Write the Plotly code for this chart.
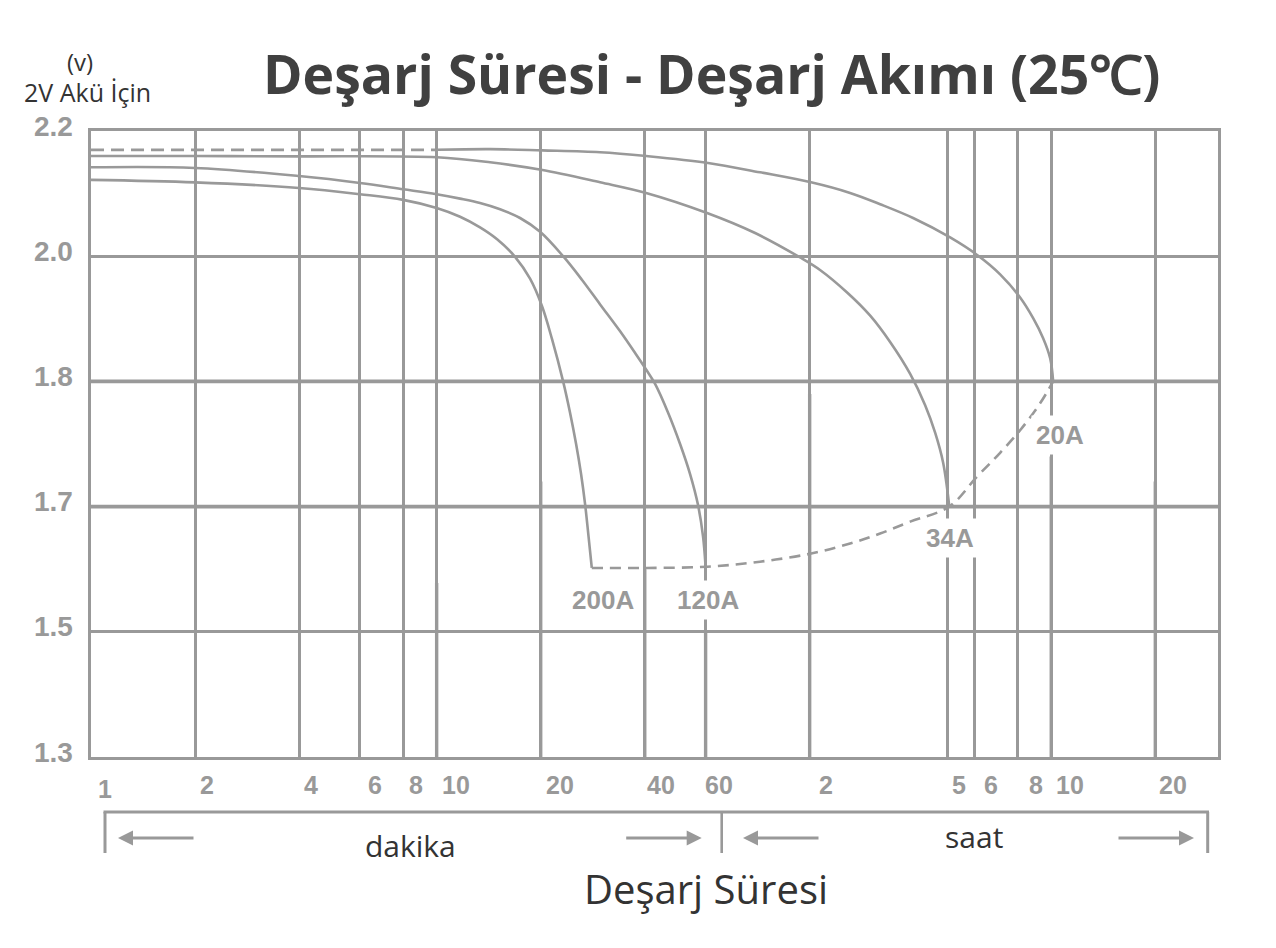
import numpy as np
import plotly.graph_objects as go

# ---------------- data ----------------
volt_ticks = [1.3, 1.5, 1.7, 1.8, 2.0, 2.2]
volt_tick_labels = ["1.3", "1.5", "1.7", "1.8", "2.0", "2.2"]

# discharge time in minutes
time_ticks = [1, 2, 4, 6, 8, 10, 20, 40, 60, 120, 300, 360, 480, 600, 1200]
time_tick_labels = ["1", "2", "4", "6", "8", "10", "20", "40", "60",
                    "2", "5", "6", "8", "10", "20"]

# 20A (dashed float part + solid discharge part)
t_20A_float = [1, 10]
v_20A_float = [2.170, 2.170]
t_20A = [10.0, 14.3, 20.2, 29.7, 40.4, 61.0, 86.2, 121.1, 157.1, 191.9, 239,
         305.9, 366.2, 426.8, 487.6, 531.8, 568.4, 595.6, 607.6]
v_20A = [2.170, 2.171, 2.169, 2.166, 2.160, 2.149, 2.134, 2.118, 2.101, 2.083,
         2.061, 2.030, 2.002, 1.971, 1.934, 1.901, 1.869, 1.837, 1.800]

# 34A
t_34A = [1, 2, 4, 10.03, 14.27, 20.05, 29.71, 40.36, 60.58, 83.44, 112.6, 128.6,
         154.0, 179.6, 205.1, 234.4, 259.0, 276.8, 292.0, 303.9]
v_34A = [2.160, 2.160, 2.1595, 2.158, 2.150, 2.138, 2.118, 2.101, 2.069, 2.037,
         1.998, 1.978, 1.942, 1.905, 1.863, 1.812, 1.781, 1.759, 1.735, 1.701]

# 120A
t_120A = [1, 2, 4, 6, 8, 10, 11.69, 13.35, 15.26, 17.43, 19.92, 23.22, 26.35,
          29.71, 33.95, 37.76, 40.36, 42.85, 46.73, 50.62, 54.10, 57.07, 58.99,
          59.99]
v_120A = [2.142, 2.141, 2.128, 2.117, 2.107, 2.099, 2.092, 2.085, 2.075, 2.061,
          2.039, 2.000, 1.962, 1.923, 1.880, 1.843, 1.819, 1.798, 1.775, 1.750,
          1.726, 1.701, 1.652, 1.604]

# 200A
t_200A = [1, 2, 4, 6, 8, 10, 11.69, 13.35, 14.96, 16.86, 18.63, 20.18, 21.58,
          23.22, 24.32, 25.32, 26.17, 26.88, 27.51, 28.11]
v_200A = [2.122, 2.118, 2.109, 2.099, 2.090, 2.077, 2.063, 2.046, 2.027, 1.999,
          1.964, 1.920, 1.867, 1.800, 1.775, 1.750, 1.726, 1.702, 1.652, 1.602]

# final (cut-off) voltage line, dashed
t_cut = [28.11, 40.36, 60.58, 86.2, 121.2, 157.1, 191.9, 234.4, 303.9, 366.2,
         426.8, 487.6, 557, 607.6]
v_cut = [1.602, 1.602, 1.604, 1.612, 1.625, 1.641, 1.657, 1.676, 1.700, 1.724,
         1.743, 1.761, 1.7825, 1.800]

curve_labels = ["200A", "120A", "34A", "20A"]

# ---------------- styling ----------------
GRID = "#999999"
DARK = "#404040"
TXT = "#333333"

W, H = 1276, 948
L, R, T, B = 91, 1218, 131, 757


def px(xp):
    return (xp - L) / (R - L)


def py(yp):
    return (B - yp) / (B - T)


def vpos(v):
    # voltage -> evenly spaced grid position (the chart uses uneven voltage ticks)
    return np.interp(v, volt_ticks, list(range(len(volt_ticks))))


fig = go.Figure()

# slightly heavier grid segments seen in the original
heavy_h = [1.8, 1.7]
for hv in heavy_h:
    fig.add_trace(go.Scatter(x=[1, 1822], y=[vpos(hv)] * 2, mode="lines",
                             line=dict(color=GRID, width=3.6), hoverinfo="skip"))
heavy_v = [(10, 1.578), (20, 1.72), (40, 1.60), (120, 1.79), (600, 1.74), (1200, 1.72), (60, 1.5)]
for tv, vtop in heavy_v:
    fig.add_trace(go.Scatter(x=[tv, tv], y=[0, vpos(vtop)], mode="lines",
                             line=dict(color=GRID, width=3.4), hoverinfo="skip"))

line_style = dict(color=GRID, width=2.6, shape="spline", smoothing=1.0)

fig.add_trace(go.Scatter(x=t_20A_float, y=vpos(v_20A_float), mode="lines",
                         line=dict(color=GRID, width=2.8, dash="13px,7px")))
fig.add_trace(go.Scatter(x=t_20A, y=vpos(v_20A), mode="lines", line=line_style))
fig.add_trace(go.Scatter(x=t_34A, y=vpos(v_34A), mode="lines", line=line_style))
fig.add_trace(go.Scatter(x=t_120A, y=vpos(v_120A), mode="lines", line=line_style))
fig.add_trace(go.Scatter(x=t_200A, y=vpos(v_200A), mode="lines", line=line_style))
fig.add_trace(go.Scatter(x=t_cut, y=vpos(v_cut), mode="lines",
                         line=dict(color=GRID, width=2.6, dash="11px,7px",
                                   shape="spline", smoothing=1.0)))

annotations = []

# x tick labels (left-aligned just right of each grid line)
x_label_shift = [5, 3, 3, 6, 4, 3, 3, 0, -3, 7, 3, 7, 9, 3, 2]
for val, lab, sh in zip(time_ticks, time_tick_labels, x_label_shift):
    annotations.append(dict(
        x=np.log10(val), xref="x", y=py(785 + (4 if val == 1 else 0)),
        yref="paper", text=lab, showarrow=False, xanchor="left", yanchor="middle",
        xshift=sh,
        font=dict(family="Liberation Sans, Arial", size=25, color=GRID, weight="bold")))

# y tick labels
for i, lab in enumerate(volt_tick_labels):
    annotations.append(dict(
        x=px(75), xref="paper", y=i, yref="y", yshift=5, text=lab, showarrow=False,
        xanchor="right", yanchor="middle",
        font=dict(family="Liberation Sans, Arial", size=28, color=GRID, weight="bold")))

# curve labels
label_pos = [(602.5, 600), (708, 600), (950, 538), (1059.5, 435)]
for lab, (lx, ly) in zip(curve_labels, label_pos):
    annotations.append(dict(
        x=px(lx), y=py(ly), xref="paper", yref="paper", text=lab, showarrow=False,
        xanchor="center", yanchor="middle", bgcolor="white", borderpad=4,
        font=dict(family="Liberation Sans, Arial", size=26, color=GRID, weight="bold")))

# title and side texts
annotations += [
    dict(x=px(711), y=py(74), xref="paper", yref="paper",
         text="Deşarj Süresi - Deşarj Akımı (25℃)", showarrow=False,
         xanchor="center", yanchor="middle",
         font=dict(family="Open Sans", size=53.5, color=DARK, weight="bold")),
    dict(x=px(80), y=py(62), xref="paper", yref="paper", text="(v)", showarrow=False,
         xanchor="center", yanchor="middle",
         font=dict(family="Open Sans", size=24, color=TXT)),
    dict(x=px(87.5), y=py(92), xref="paper", yref="paper", text="2V Akü İçin",
         showarrow=False, xanchor="center", yanchor="middle",
         font=dict(family="Open Sans", size=25, color=TXT)),
    dict(x=px(410), y=py(845), xref="paper", yref="paper", text="dakika",
         showarrow=False, xanchor="center", yanchor="middle",
         font=dict(family="Open Sans", size=30, color=TXT)),
    dict(x=px(974), y=py(837), xref="paper", yref="paper", text="saat",
         showarrow=False, xanchor="center", yanchor="middle",
         font=dict(family="Open Sans", size=30, color=TXT)),
    dict(x=px(705.5), y=py(888), xref="paper", yref="paper", text="Deşarj Süresi",
         showarrow=False, xanchor="center", yanchor="middle",
         font=dict(family="Open Sans", size=40, color=TXT)),
]

# arrows below the axis
arrow_defs = [(118, 77), (701.7, -77), (743, 77), (1194, -77)]
for tip_x, dx in arrow_defs:
    annotations.append(dict(
        x=px(tip_x), y=py(838), xref="paper", yref="paper", text="",
        showarrow=True, ax=dx, ay=0, arrowhead=2, arrowsize=1, arrowwidth=3,
        arrowcolor=GRID, standoff=0))

shapes = [
    dict(type="line", xref="paper", yref="paper", x0=px(103.5), x1=px(1209),
         y0=py(812), y1=py(812), line=dict(color=GRID, width=3)),
    dict(type="line", xref="paper", yref="paper", x0=px(105), x1=px(105),
         y0=py(812), y1=py(853), line=dict(color=GRID, width=3)),
    dict(type="line", xref="paper", yref="paper", x0=px(721.7), x1=px(721.7),
         y0=py(812), y1=py(853), line=dict(color=GRID, width=2.6)),
    dict(type="line", xref="paper", yref="paper", x0=px(1207.7), x1=px(1207.7),
         y0=py(812), y1=py(853), line=dict(color=GRID, width=3)),
]

fig.update_layout(
    width=W, height=H,
    margin=dict(l=L, r=W - R, t=T, b=H - B, pad=0),
    paper_bgcolor="white", plot_bgcolor="white",
    showlegend=False,
    annotations=annotations,
    shapes=shapes,
    xaxis=dict(type="log", range=[0, np.log10(1822)], tickvals=time_ticks,
               showticklabels=False, ticks="", showgrid=True, gridcolor=GRID,
               gridwidth=2.5, showline=True, mirror=True, linecolor=GRID,
               linewidth=3, zeroline=False),
    yaxis=dict(range=[0, len(volt_ticks) - 1], tickvals=list(range(len(volt_ticks))),
               showticklabels=False, ticks="", showgrid=True, gridcolor=GRID,
               gridwidth=2.5, showline=True, mirror=True, linecolor=GRID,
               linewidth=3, zeroline=False),
)

fig.write_html("out.html", config={"displayModeBar": False},
               post_script="document.body.style.margin='0';")
